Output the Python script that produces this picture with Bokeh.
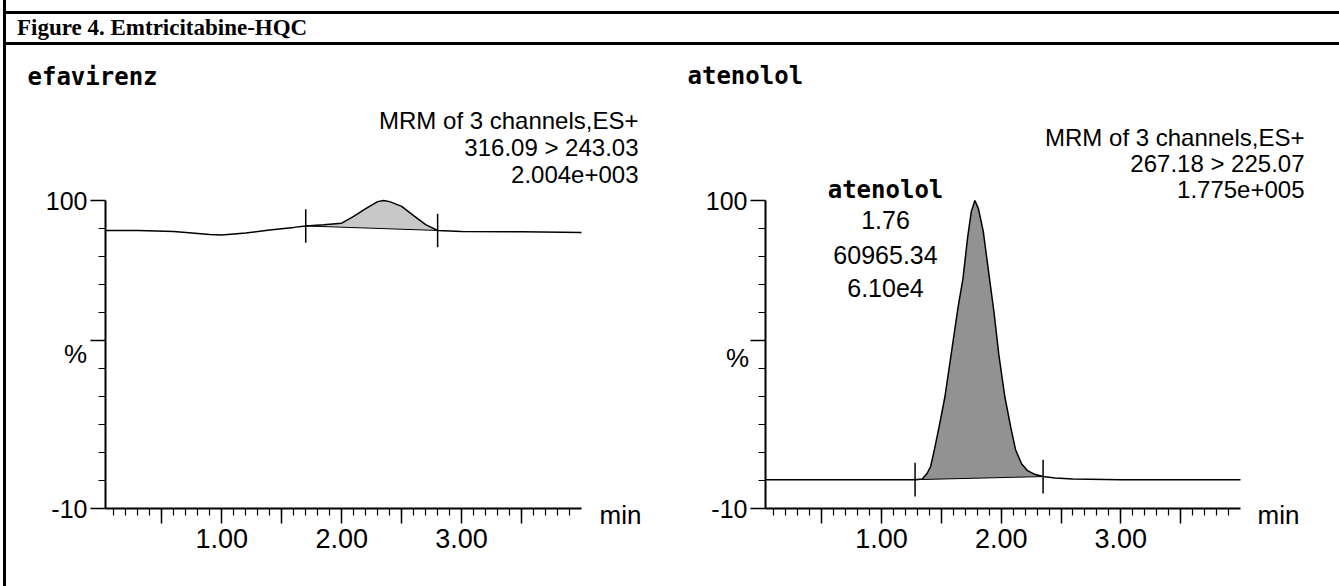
from bokeh.plotting import figure
from bokeh.models import Range1d, FixedTicker, Label, Div, PrintfTickFormatter, LinearAxis
from bokeh.layouts import column, row
from bokeh.embed import file_html
from bokeh.resources import INLINE

# ---------------- data ----------------
header_text = "Figure 4. Emtricitabine-HQC"

x_start, x_end = 0.03, 4.0
y_bottom, y_top = -10, 100
x_major = [0.5, 1.0, 1.5, 2.0, 2.5, 3.0, 3.5]
x_minor = [round(0.1 * i, 1) for i in range(1, 40)]
x_labels = {0.5: "", 1.0: "1.00", 1.5: "", 2.0: "2.00", 2.5: "", 3.0: "3.00", 3.5: ""}
y_major = [-10, 50, 100]
y_minor = [0, 10, 20, 30, 40, 60, 70, 80, 90]
y_labels = {-10: "-10", 50: "", 100: "100"}

efv_name = "efavirenz"
efv_info = ["MRM of 3 channels,ES+", "316.09 > 243.03", "2.004e+003"]
efv_time = [0.03, 0.3, 0.6, 0.9, 1.0, 1.2, 1.4, 1.6, 1.7, 1.85, 2.0, 2.1, 2.2,
            2.3, 2.35, 2.4, 2.5, 2.6, 2.7, 2.8, 3.0, 3.5, 4.0]
efv_pct = [89.3, 89.3, 88.9, 87.9, 87.7, 88.4, 89.5, 90.4, 90.9, 91.3, 91.9, 94.3, 97.1,
           99.6, 100.0, 99.6, 97.9, 94.6, 91.4, 89.3, 88.9, 88.8, 88.6]
efv_peak = [1.7, 2.8]

ate_name = "atenolol"
ate_info = ["MRM of 3 channels,ES+", "267.18 > 225.07", "1.775e+005"]
ate_time = [0.03, 0.5, 1.0, 1.28, 1.34, 1.38, 1.41, 1.44, 1.48, 1.53, 1.59, 1.64, 1.68,
            1.72, 1.75, 1.78, 1.81, 1.85, 1.89, 1.94, 1.98, 2.03, 2.08, 2.12, 2.17,
            2.22, 2.28, 2.35, 2.45, 2.6, 3.0, 4.0]
ate_pct = [0.3, 0.3, 0.3, 0.3, 0.5, 2.5, 5.0, 10.7, 19.0, 30.0, 47.5, 62.0, 72.0,
           87.0, 96.0, 100.0, 97.0, 89.0, 76.0, 60.0, 45.0, 30.0, 19.0, 11.0, 6.0,
           3.5, 2.2, 1.4, 0.9, 0.5, 0.3, 0.3]
ate_peak = [1.28, 2.35]
ate_peak_label = ["atenolol", "1.76", "60965.34", "6.10e4"]

# ---------------- layout constants (page pixels) ----------------
TOP, BOTTOM = 46, 586      # chart row extent
FT, FB = 200, 508          # where 100 and -10 sit
SANS = "Liberation Sans"
MONO = "DejaVu Sans Mono"


def add_label(p, text, x, y, size, font, align="left", bold=False):
    p.add_layout(Label(x=x, y=y, x_units="screen", y_units="screen", text=text,
                       text_font=font, text_font_size=f"{size}px",
                       text_align=align, text_baseline="middle",
                       text_font_style="bold" if bold else "normal",
                       text_color="black"))


def panel(x0, x1, fl, fr, name, name_y, info, info_y, t, pct, peak, fill,
          name_x, pct_x, pct_y, min_x, info_right, peak_label=None, peak_label_x=None):
    ppm = (fr - fl) / (x_end - x_start)
    ppu = (FB - FT) / (y_top - y_bottom)
    xr = Range1d(x_start - (fl - x0) / ppm, x_end + (x1 - fr) / ppm)
    yr = Range1d(y_bottom - (BOTTOM - FB) / ppu, y_top + (FT - TOP) / ppu)
    p = figure(width=x1 - x0, height=BOTTOM - TOP, output_backend="svg",
               toolbar_location=None, x_range=xr, y_range=yr,
               x_axis_type=None, y_axis_type=None, title_location=None,
               min_border=0)
    p.outline_line_color = None
    p.grid.visible = False
    p.background_fill_color = "white"
    p.border_fill_color = "white"

    xa = LinearAxis(fixed_location=y_bottom, bounds=(x_start, x_end),
                    ticker=FixedTicker(ticks=x_major, minor_ticks=x_minor),
                    formatter=PrintfTickFormatter(format="%.2f"))
    xa.major_label_overrides = dict(x_labels)
    ya = LinearAxis(fixed_location=x_start, bounds=(y_bottom, y_top),
                    ticker=FixedTicker(ticks=y_major, minor_ticks=y_minor))
    ya.major_label_overrides = dict(y_labels)
    for ax in (xa, ya):
        ax.axis_line_color = "black"
        ax.axis_line_width = 2
        ax.major_tick_line_color = "black"
        ax.major_tick_line_width = 1.5
        ax.minor_tick_line_color = "black"
        ax.minor_tick_line_width = 1.2
        ax.major_tick_in = 0
        ax.minor_tick_in = 0
        ax.major_tick_out = 15
        ax.minor_tick_out = 7
        ax.major_label_text_font = SANS
        ax.major_label_text_color = "black"
    xa.major_label_text_font_size = "27px"
    xa.major_label_standoff = 5
    ya.major_label_text_font_size = "25px"
    ya.major_label_standoff = 3
    p.add_layout(xa, "below")
    p.add_layout(ya, "left")

    # integrated peak area
    s, e = peak
    inside = [(ti, yi) for ti, yi in zip(t, pct) if s <= ti <= e]
    ys_s = inside[0][1]
    ys_e = inside[-1][1]
    px = [ti for ti, _ in inside] + [e, s]
    py = [yi for _, yi in inside] + [ys_e, ys_s]
    p.patch(px, py, fill_color=fill, line_color=None)
    p.line([s, e], [ys_s, ys_e], line_color="black", line_width=1)
    p.line(t, pct, line_color="black", line_width=1.5)
    p.segment(x0=[s, e], y0=[ys_s - 6, ys_e - 6], x1=[s, e], y1=[ys_s + 6, ys_e + 6],
              line_color="black", line_width=1.5)

    def sx(X):
        return X - x0

    def sy(Y):
        return BOTTOM - Y

    add_label(p, name, sx(name_x), sy(name_y), 24, MONO, bold=True)
    for txt, yy in zip(info, info_y):
        add_label(p, txt, sx(info_right), sy(yy), 24, SANS, align="right")
    add_label(p, "%", sx(pct_x), sy(pct_y), 26, SANS, align="center")
    add_label(p, "min", sx(min_x), sy(514), 26, SANS)
    if peak_label:
        ly = [189, 219, 254, 287]
        for i, (txt, yy) in enumerate(zip(peak_label, ly)):
            add_label(p, txt, sx(peak_label_x), sy(yy), 24 if i == 0 else 25,
                      MONO if i == 0 else SANS, align="center", bold=(i == 0))
    return p


left = panel(6, 660, 105, 581, efv_name, 76, efv_info, [120, 147, 174],
             efv_time, efv_pct, efv_peak, "#c8c8c8",
             name_x=27, pct_x=75, pct_y=353, min_x=599, info_right=638)
right = panel(660, 1339, 765, 1240, ate_name, 75, ate_info, [137, 163, 189],
              ate_time, ate_pct, ate_peak, "#929292",
              name_x=687, pct_x=737, pct_y=357, min_x=1257, info_right=1304,
              peak_label=ate_peak_label, peak_label_x=885)

header = Div(text=(
    '<div style="margin-top:11px;border-top:3px solid #000;border-bottom:3px solid #000;'
    'height:28px;width:1333px;box-sizing:content-box;'
    "font-family:'Liberation Serif';font-weight:bold;font-size:23px;line-height:28px;"
    'text-indent:11px;color:#000;white-space:nowrap;">' + header_text + '</div>'),
    width=1333, height=46, styles={"margin": "0", "padding": "0"})

page = column(header, row(left, right, spacing=0), spacing=0,
              styles={"margin-left": "3px", "border-left": "3px solid #000"})

open("out.html", "w").write(file_html(page, INLINE))
